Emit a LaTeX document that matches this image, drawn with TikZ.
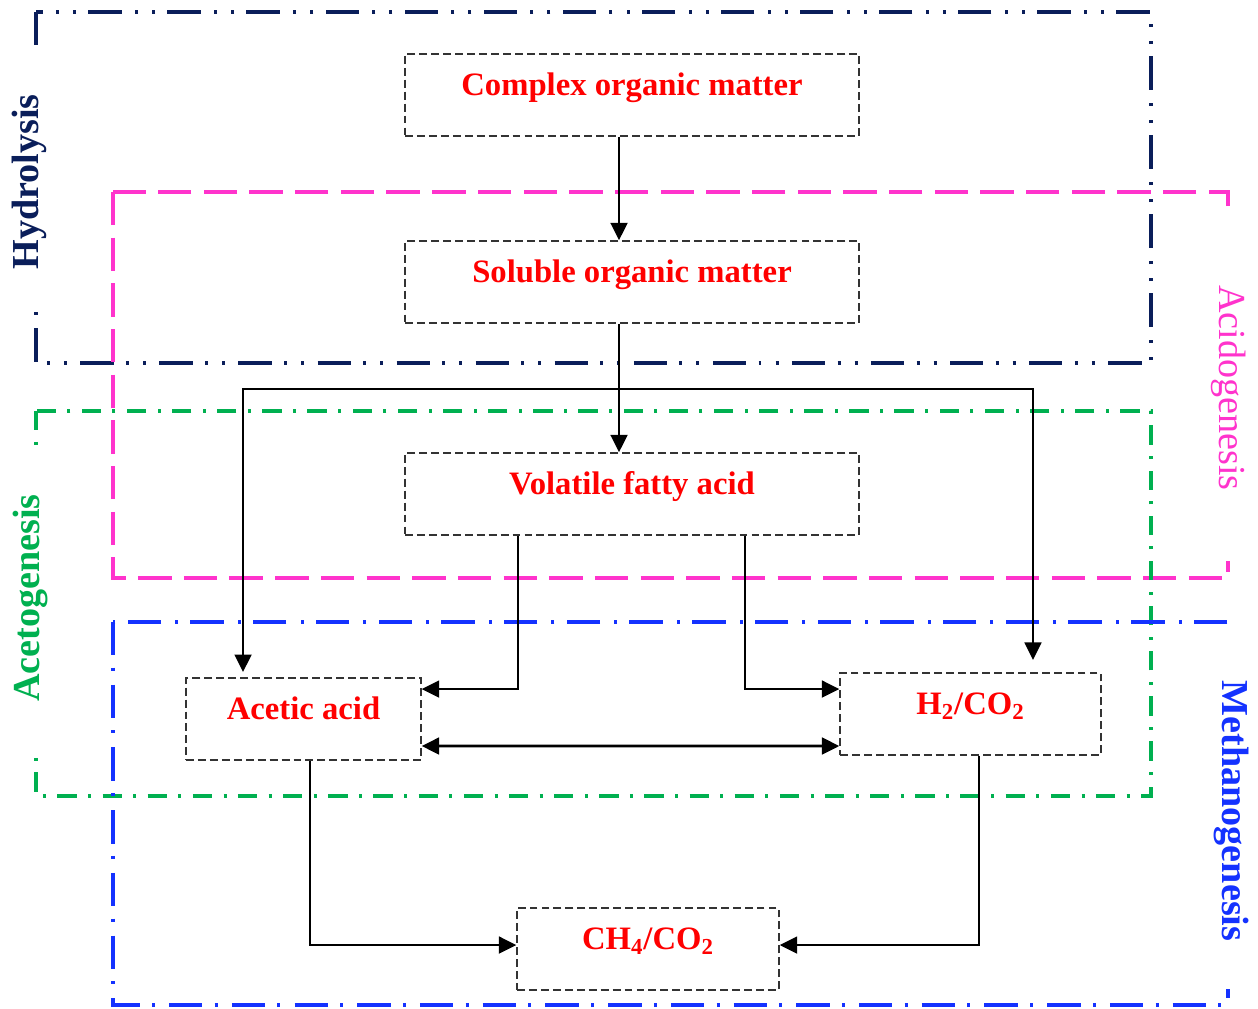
\documentclass[tikz,border=0pt]{standalone}
\usepackage{fontspec}
\setmainfont{Liberation Serif}
\usetikzlibrary{arrows.meta}
\definecolor{hydro}{RGB}{10,30,90}
\definecolor{acido}{RGB}{255,51,204}
\definecolor{aceto}{RGB}{0,176,80}
\definecolor{metha}{RGB}{20,50,255}

\begin{document}
\begin{tikzpicture}[x={(0.02cm,0)}, y={(0,-0.02cm)},
  procbox/.style={draw=black!80, dash pattern=on 4.5pt off 2.3pt, line width=0.75pt, text=red,
    font=\fontsize{18.6}{22}\selectfont\bfseries, text height=12pt, text depth=11pt,
    minimum height=1.64cm, inner sep=0pt},
  stage/.style={fill=white, inner ysep=1pt, font=\fontsize{21.7}{26}\selectfont\bfseries},
  arr/.style={line width=1.6pt, -{Triangle[length=10pt,width=9.5pt]}},
  darr/.style={line width=1.6pt, {Triangle[length=10pt,width=9.5pt]}-{Triangle[length=10pt,width=9.5pt]}}]
 \useasboundingbox (0,0) rectangle (1258,1008);
 \draw[hydro, line width=2.1pt, dash pattern=on 19pt off 7pt on 1.7pt off 8pt on 1.7pt off 7.6pt] (36,12) rectangle (1151,363);
 \draw[acido, line width=2pt, dash pattern=on 19pt off 7pt] (113,192) rectangle (1228,578);
 \draw[aceto, line width=2pt, dash pattern=on 11pt off 6.5pt on 1.7pt off 6.5pt] (36,411) rectangle (1151,796);
 \draw[metha, line width=2pt, dash pattern=on 19pt off 7pt on 1.7pt off 8pt] (113,622) rectangle (1228,1005);
 \node[stage, text=hydro, rotate=90, inner xsep=24pt] (hlab) at (29,182) {Hydrolysis};
 \node[stage, text=acido, rotate=-90, inner xsep=40pt, font=\fontsize{21.7}{26}\selectfont] (alab) at (1229,388) {Acidogenesis};
 \node[stage, text=aceto, rotate=90, inner xsep=27pt] (clab) at (30,598) {Acetogenesis};
 \node[stage, text=metha, rotate=-90, inner xsep=27pt] (mlab) at (1232,811) {Methanogenesis};

 \node[procbox, minimum width=9.08cm] (com) at (632,95) {Complex organic matter};
 \node[procbox, minimum width=9.08cm] (sol) at (632,282) {Soluble organic matter};
 \node[procbox, minimum width=9.08cm] (vfa) at (632,494) {Volatile fatty acid};
 \node[procbox, minimum width=4.7cm] (ace) at (303.5,719) {Acetic acid};
 \node[procbox, minimum width=5.22cm] (hyd) at (970.5,714) {H\textsubscript{2}/CO\textsubscript{2}};
 \node[procbox, minimum width=5.24cm] (met) at (648,949) {CH\textsubscript{4}/CO\textsubscript{2}};

 \coordinate (split) at (619,389);
 \draw[arr] ([xshift=-0.26cm]com.south) -- ([xshift=-0.26cm]sol.north);
 \draw[arr] ([xshift=-0.26cm]sol.south) -- ([xshift=-0.26cm]vfa.north);
 \draw[arr, shorten >=3pt] (split) -| ([xshift=-1.21cm]ace.north);
 \draw[arr, shorten >=7pt] (split) -| ([xshift=1.25cm]hyd.north);
 \draw[arr] ([xshift=-2.28cm]vfa.south) |- ([yshift=0.6cm]ace.east);
 \draw[arr] ([xshift=2.26cm]vfa.south) |- ([yshift=0.5cm]hyd.west);
 \draw[darr] ([yshift=-0.54cm]ace.east) -- ([yshift=-0.64cm]hyd.west);
 \draw[arr] ([xshift=0.13cm]ace.south) |- ([yshift=0.08cm]met.west);
 \draw[arr] ([xshift=0.17cm]hyd.south) |- ([yshift=0.08cm]met.east);
\end{tikzpicture}
\end{document}
